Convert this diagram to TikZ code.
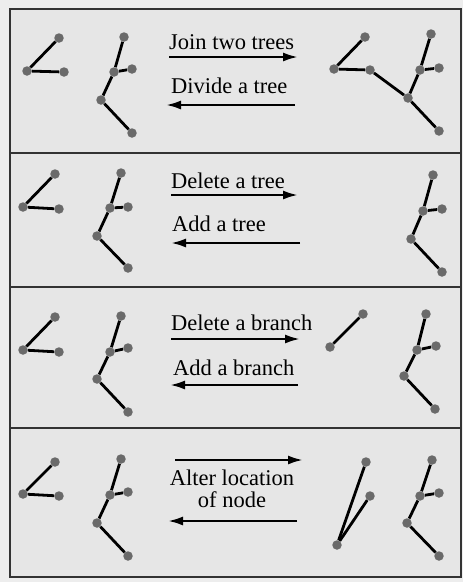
\documentclass[tikz,border=0pt]{standalone}
\usepackage{fontspec}
\setmainfont{Liberation Serif}
\usetikzlibrary{arrows.meta}
\definecolor{dotgray}{HTML}{6A6A6A}
\definecolor{bgout}{HTML}{EDEDED}
\definecolor{panel}{HTML}{E6E6E6}
\definecolor{framec}{HTML}{333333}
\begin{document}
\begin{tikzpicture}[x=1pt,y=-1pt,
  dot/.style={circle,fill=dotgray,minimum size=9.5pt,inner sep=0pt},
  edge/.style={line width=2.8pt,black},
  arr/.style={line width=2.4pt,black,-{Latex[length=15pt,width=9pt]}},
  lbl/.style={font=\fontsize{22.5}{25}\selectfont,inner sep=0pt,anchor=base west},
  clbl/.style={font=\fontsize{22.5}{25}\selectfont,inner sep=0pt,anchor=base}]
% background and frame
\fill[bgout] (0,0) rectangle (463,582);
\filldraw[fill=panel,draw=framec,line width=1.5pt] (10,9) rectangle (461,577);
\draw[framec,line width=1.5pt] (10,153) -- (461,153);
\draw[framec,line width=1.5pt] (10,287) -- (461,287);
\draw[framec,line width=1.5pt] (10,428) -- (461,428);

% ---------- Panel 1 ----------
\node[dot] (p1a1) at (59,38) {};
\node[dot] (p1a2) at (27,71) {};
\node[dot] (p1a3) at (64,72) {};
\draw[edge] (p1a2) -- (p1a1);
\draw[edge] (p1a2) -- (p1a3);
\node[dot] (p1b1) at (124,37) {};
\node[dot] (p1b2) at (114,72) {};
\node[dot] (p1b3) at (132,69) {};
\node[dot] (p1b4) at (101,100) {};
\node[dot] (p1b5) at (132,133) {};
\draw[edge] (p1b1) -- (p1b2);
\draw[edge] (p1b2) -- (p1b3);
\draw[edge] (p1b2) -- (p1b4);
\draw[edge] (p1b4) -- (p1b5);
\node[lbl] (t1a) at (169,49) {Join two trees};
\node[lbl] (t1b) at (171,93) {Divide a tree};
\coordinate (a1s) at (169,57); \coordinate (a1e) at (298,57);
\coordinate (b1s) at (295,105); \coordinate (b1e) at (166,105);
\draw[arr] (a1s) -- (a1e);
\draw[arr] (b1s) -- (b1e);
\node[dot] (p1c1) at (365,37) {};
\node[dot] (p1c2) at (334,69) {};
\node[dot] (p1c3) at (370,70) {};
\node[dot] (p1d1) at (431,34) {};
\node[dot] (p1d2) at (420,70) {};
\node[dot] (p1d3) at (439,68) {};
\node[dot] (p1d4) at (408,98) {};
\node[dot] (p1d5) at (439,131) {};
\draw[edge] (p1c2) -- (p1c1);
\draw[edge] (p1c2) -- (p1c3);
\draw[edge] (p1c3) -- (p1d4);
\draw[edge] (p1d1) -- (p1d2);
\draw[edge] (p1d2) -- (p1d3);
\draw[edge] (p1d2) -- (p1d4);
\draw[edge] (p1d4) -- (p1d5);

% ---------- Panel 2 ----------
\node[dot] (p2a1) at (55,174) {};
\node[dot] (p2a2) at (23,207) {};
\node[dot] (p2a3) at (59,209) {};
\draw[edge] (p2a2) -- (p2a1);
\draw[edge] (p2a2) -- (p2a3);
\node[dot] (p2b1) at (121,173) {};
\node[dot] (p2b2) at (110,208) {};
\node[dot] (p2b3) at (128,207) {};
\node[dot] (p2b4) at (97,236) {};
\node[dot] (p2b5) at (128,268) {};
\draw[edge] (p2b1) -- (p2b2);
\draw[edge] (p2b2) -- (p2b3);
\draw[edge] (p2b2) -- (p2b4);
\draw[edge] (p2b4) -- (p2b5);
\node[lbl] (t2a) at (171,188) {Delete a tree};
\node[lbl] (t2b) at (172,231) {Add a tree};
\coordinate (a2s) at (171,195); \coordinate (a2e) at (298,195);
\coordinate (b2s) at (300,243); \coordinate (b2e) at (171,243);
\draw[arr] (a2s) -- (a2e);
\draw[arr] (b2s) -- (b2e);
\node[dot] (p2d1) at (433,175) {};
\node[dot] (p2d2) at (423,211) {};
\node[dot] (p2d3) at (442,209) {};
\node[dot] (p2d4) at (411,239) {};
\node[dot] (p2d5) at (442,272) {};
\draw[edge] (p2d1) -- (p2d2);
\draw[edge] (p2d2) -- (p2d3);
\draw[edge] (p2d2) -- (p2d4);
\draw[edge] (p2d4) -- (p2d5);

% ---------- Panel 3 ----------
\node[dot] (p3a1) at (55,317) {};
\node[dot] (p3a2) at (23,350) {};
\node[dot] (p3a3) at (59,352) {};
\draw[edge] (p3a2) -- (p3a1);
\draw[edge] (p3a2) -- (p3a3);
\node[dot] (p3b1) at (121,316) {};
\node[dot] (p3b2) at (110,352) {};
\node[dot] (p3b3) at (128,348) {};
\node[dot] (p3b4) at (97,379) {};
\node[dot] (p3b5) at (128,412) {};
\draw[edge] (p3b1) -- (p3b2);
\draw[edge] (p3b2) -- (p3b3);
\draw[edge] (p3b2) -- (p3b4);
\draw[edge] (p3b4) -- (p3b5);
\node[lbl] (t3a) at (171,330) {Delete a branch};
\node[lbl] (t3b) at (173,375) {Add a branch};
\coordinate (a3s) at (171,339); \coordinate (a3e) at (300,339);
\coordinate (b3s) at (298,385); \coordinate (b3e) at (170,385);
\draw[arr] (a3s) -- (a3e);
\draw[arr] (b3s) -- (b3e);
\node[dot] (p3c1) at (363,314) {};
\node[dot] (p3c2) at (330,347) {};
\draw[edge] (p3c2) -- (p3c1);
\node[dot] (p3d1) at (426,314) {};
\node[dot] (p3d2) at (417,350) {};
\node[dot] (p3d3) at (436,346) {};
\node[dot] (p3d4) at (404,376) {};
\node[dot] (p3d5) at (435,409) {};
\draw[edge] (p3d1) -- (p3d2);
\draw[edge] (p3d2) -- (p3d3);
\draw[edge] (p3d2) -- (p3d4);
\draw[edge] (p3d4) -- (p3d5);

% ---------- Panel 4 ----------
\node[dot] (p4a1) at (55,462) {};
\node[dot] (p4a2) at (23,494) {};
\node[dot] (p4a3) at (59,496) {};
\draw[edge] (p4a2) -- (p4a1);
\draw[edge] (p4a2) -- (p4a3);
\node[dot] (p4b1) at (121,459) {};
\node[dot] (p4b2) at (110,495) {};
\node[dot] (p4b3) at (128,492) {};
\node[dot] (p4b4) at (97,523) {};
\node[dot] (p4b5) at (128,556) {};
\draw[edge] (p4b1) -- (p4b2);
\draw[edge] (p4b2) -- (p4b3);
\draw[edge] (p4b2) -- (p4b4);
\draw[edge] (p4b4) -- (p4b5);
\node[clbl] (t4a) at (232,485) {Alter location};
\node[clbl] (t4b) at (232,507.5) {of node};
\coordinate (a4s) at (175,460); \coordinate (a4e) at (303,460);
\coordinate (b4s) at (297,521); \coordinate (b4e) at (168,521);
\draw[arr] (a4s) -- (a4e);
\draw[arr] (b4s) -- (b4e);
\node[dot] (p4c1) at (366,462) {};
\node[dot] (p4c2) at (370,496) {};
\node[dot] (p4c3) at (337,545) {};
\draw[edge] (p4c3) -- (p4c1);
\draw[edge] (p4c3) -- (p4c2);
\node[dot] (p4d1) at (432,460) {};
\node[dot] (p4d2) at (420,496) {};
\node[dot] (p4d3) at (439,493) {};
\node[dot] (p4d4) at (407,523) {};
\node[dot] (p4d5) at (439,556) {};
\draw[edge] (p4d1) -- (p4d2);
\draw[edge] (p4d2) -- (p4d3);
\draw[edge] (p4d2) -- (p4d4);
\draw[edge] (p4d4) -- (p4d5);
\end{tikzpicture}
\end{document}
